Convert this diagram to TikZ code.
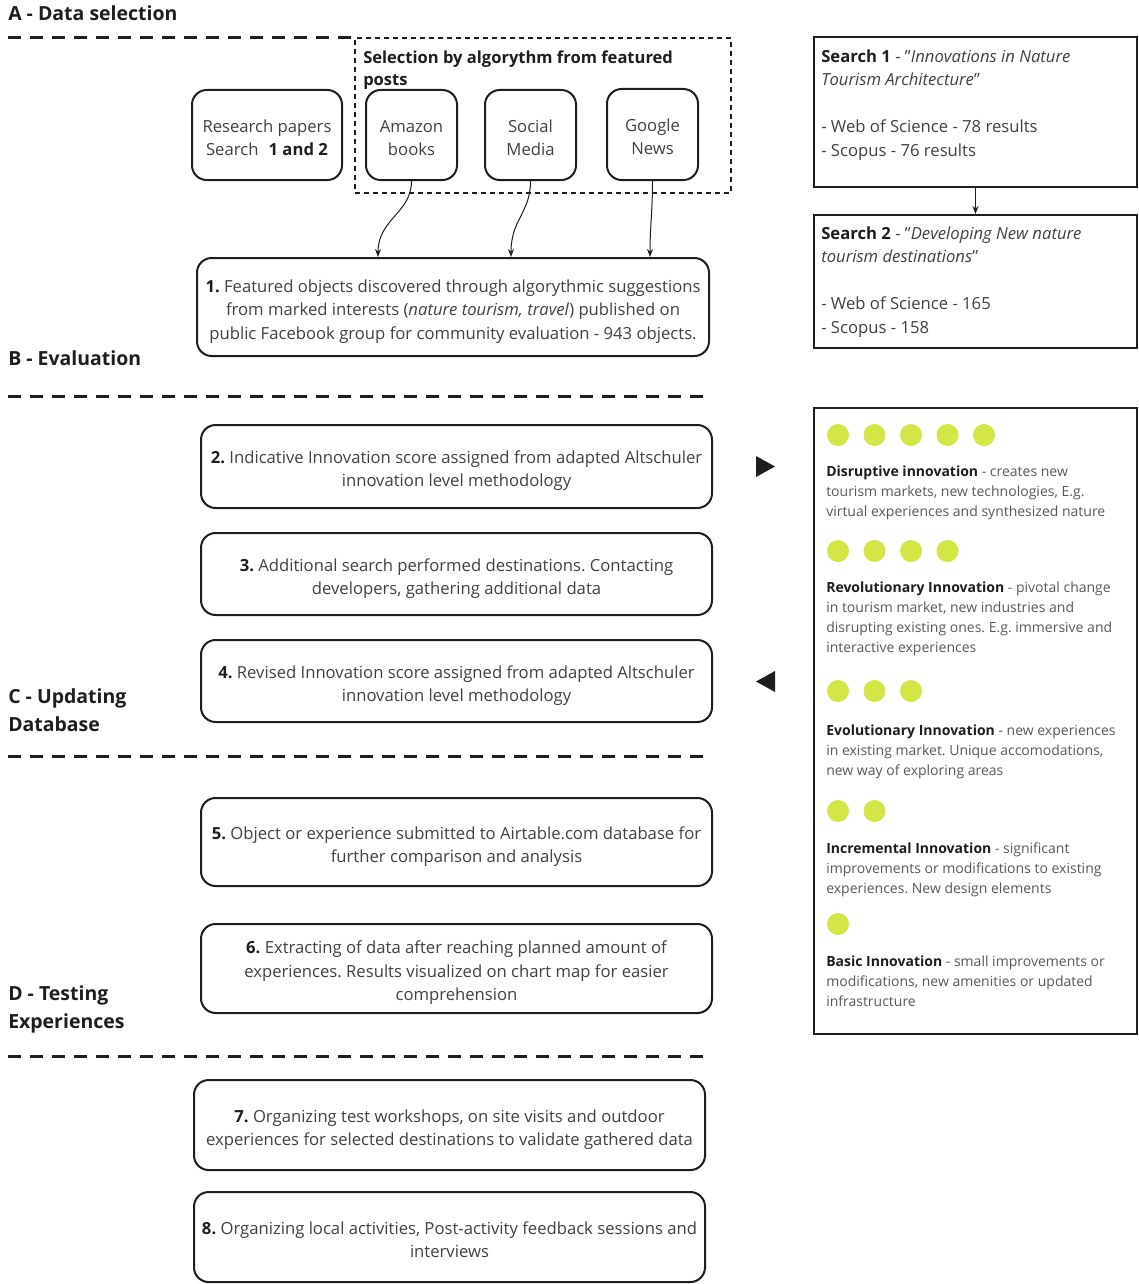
\documentclass[tikz,border=0pt]{standalone}
\usepackage{fontspec}
\setmainfont{Open Sans}
\usetikzlibrary{arrows.meta}
\definecolor{lime}{RGB}{211,230,69}
\definecolor{txt}{RGB}{64,64,64}
\definecolor{ptxt}{RGB}{88,88,88}
\definecolor{ink}{RGB}{30,30,30}
\newcommand\topstrut{\rule{0pt}{1.35em}}
\newcommand\botstrut{\rule[-0.3em]{0pt}{0.3em}}
\newcommand\placebox[7]{\node[#1, minimum width={(#5-#3)*0.75pt}, minimum height={(#6-#4)*0.75pt}] (#2) at ({(#3+#5)/2},{(#4+#6)/2}) {\topstrut#7\botstrut};}
\frenchspacing
\begin{document}
\begin{tikzpicture}[x=0.75pt,y=-0.75pt,
  rbox/.style={draw=ink, line width=1.5pt, rounded corners=11pt, align=center, text=txt, font=\fontsize{12.5}{17.6}\selectfont, inner sep=0pt},
  sbox/.style={draw=ink, line width=1.5pt, inner sep=0pt},
  gbox/.style={draw=ink, line width=1.1pt, dash pattern=on 3.75pt off 3pt, inner sep=0pt},
  head/.style={anchor=west, align=left, inner sep=0pt, text=ink, font=\fontsize{14.6}{21}\selectfont\bfseries},
  glabel/.style={anchor=north west, align=left, inner sep=0pt, text=ink, font=\fontsize{12.4}{16.5}\selectfont\bfseries},
  stext/.style={anchor=north west, align=left, inner sep=0pt, text=txt, font=\fontsize{12.5}{17.6}\selectfont},
  ptext/.style={anchor=north west, align=left, inner sep=0pt, text=ptxt, font=\fontsize{10.5}{15}\selectfont},
  dot/.style={circle, fill=lime, minimum size=16.5pt, inner sep=0pt},
  sep/.style={draw=ink, line width=2.25pt, dash pattern=on 9.75pt off 6.75pt},
  arr/.style={-{Stealth[length=6pt,width=4.5pt]}, line width=0.75pt, draw=ink},
]
\useasboundingbox (0,0) rectangle (1138,1284);

% headings
\node[head] (hA) at (8,13) {A - Data selection};
\node[head] (hB) at (8,358) {B - Evaluation};
\node[head] (hC) at (8,710) {C - Updating\\Database};
\node[head] (hD) at (8,1009) {D - Testing\\Experiences};

% separators
\draw[sep] (8,38) -- (355,38);
\draw[sep] (8,396) -- (710,396);
\draw[sep] (8,756) -- (710,756);
\draw[sep] (8,1056) -- (710,1056);

% selection group
\placebox{gbox}{sel}{355}{38}{731}{193}{}
\node[glabel] (sellabel) at (363,50.5) {Selection by algorythm from featured\\posts};

% source boxes
\placebox{rbox}{research}{192}{90}{342}{180}{Research papers\\Search\hspace{0.35em} \textcolor{ink}{\textbf{1 and 2}}}
\placebox{rbox}{amazon}{366}{90}{457}{180}{Amazon\\books}
\placebox{rbox}{social}{485}{90}{576}{180}{Social\\Media}
\placebox{rbox}{google}{607}{89}{698}{180}{Google\\News}

% steps
\placebox{rbox}{s1}{197}{258}{709}{356}{\textcolor{ink}{\textbf{1.}} Featured objects discovered through algorythmic suggestions\\from marked interests (\textit{nature tourism, travel}) published on\\public Facebook group for community evaluation - 943 objects.}
\placebox{rbox}{s2}{201}{425}{712}{508}{\textcolor{ink}{\textbf{2.}} Indicative Innovation score assigned from adapted Altschuler\\innovation level methodology}
\placebox{rbox}{s3}{201}{533}{712}{615}{\textcolor{ink}{\textbf{3.}} Additional search performed destinations. Contacting\\developers, gathering additional data}
\placebox{rbox}{s4}{201}{640}{712}{722}{\textcolor{ink}{\textbf{4.}} Revised Innovation score assigned from adapted Altschuler\\innovation level methodology}
\placebox{rbox}{s5}{201}{798}{712}{886}{\textcolor{ink}{\textbf{5.}} Object or experience submitted to Airtable.com database for\\further comparison and analysis}
\placebox{rbox}{s6}{201}{924}{712}{1013}{\textcolor{ink}{\textbf{6.}} Extracting of data after reaching planned amount of\\experiences. Results visualized on chart map for easier\\comprehension}
\placebox{rbox}{s7}{194}{1080}{705}{1170}{\textcolor{ink}{\textbf{7.}} Organizing test workshops, on site visits and outdoor\\experiences for selected destinations to validate gathered data}
\placebox{rbox}{s8}{194}{1192}{705}{1282}{\textcolor{ink}{\textbf{8.}} Organizing local activities, Post-activity feedback sessions and\\interviews}

% arrows into step 1
\draw[arr] (amazon.south) .. controls +(0,32) and +(0,-38) .. (s1.north -| 378,0);
\draw[arr] (social.south) .. controls +(0,32) and +(0,-38) .. (s1.north -| 511,0);
\draw[arr] (google.south) .. controls +(0,30) and +(0,-30) .. (s1.north -| 650,0);

% search boxes
\placebox{sbox}{search1}{814}{37}{1137}{187}{}
\placebox{sbox}{search2}{814}{215}{1137}{348}{}
\node[stext] (search1t) at (821,49.5) {\textcolor{ink}{\textbf{Search 1}} - "\textit{Innovations in Nature}\\\textit{Tourism Architecture}"\\[17.6pt]- Web of Science - 78 results\\- Scopus - 76 results};
\node[stext] (search2t) at (821,226.5) {\textcolor{ink}{\textbf{Search 2}} - "\textit{Developing New nature}\\\textit{tourism destinations}"\\[17.6pt]- Web of Science - 165\\- Scopus - 158};
\draw[arr] (search1.south) -- (search2.north);

% triangles
\fill[ink] (756,456) -- (775,466.5) -- (756,477) -- cycle;
\fill[ink] (775,671) -- (756,681.5) -- (775,692) -- cycle;

% innovation panel
\placebox{sbox}{panel}{814}{408}{1137}{1034}{}
\foreach \i/\x in {1/838,2/874.5,3/911,4/947.5,5/984}{\node[dot] (da\i) at (\x,435) {};}
\foreach \i/\x in {1/838,2/874.5,3/911,4/947.5}{\node[dot] (db\i) at (\x,551) {};}
\foreach \i/\x in {1/838,2/874.5,3/911}{\node[dot] (dc\i) at (\x,691) {};}
\foreach \i/\x in {1/838,2/874.5}{\node[dot] (dd\i) at (\x,811) {};}
\node[dot] (de1) at (838,924) {};

\node[ptext] (pa) at (826,465.5) {\textcolor{ink}{\textbf{Disruptive innovation}} - creates new\\tourism markets, new technologies, E.g.\\virtual experiences and synthesized nature};
\node[ptext] (pb) at (826,581.5) {\textcolor{ink}{\textbf{Revolutionary Innovation}} - pivotal change\\in tourism market, new industries and\\disrupting existing ones. E.g. immersive and\\interactive experiences};
\node[ptext] (pc) at (826,724.5) {\textcolor{ink}{\textbf{Evolutionary Innovation}} - new experiences\\in existing market. Unique accomodations,\\new way of exploring areas};
\node[ptext] (pd) at (826,842.5) {\textcolor{ink}{\textbf{Incremental Innovation}} - significant\\improvements or modifications to existing\\experiences. New design elements};
\node[ptext] (pe) at (826,955.5) {\textcolor{ink}{\textbf{Basic Innovation}} - small improvements or\\modifications, new amenities or updated\\infrastructure};
\end{tikzpicture}
\end{document}
